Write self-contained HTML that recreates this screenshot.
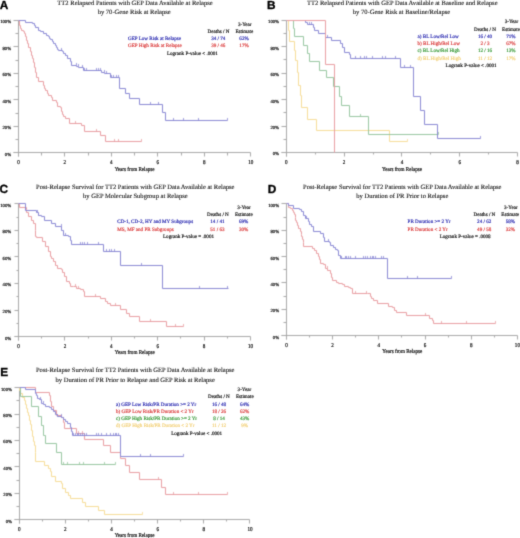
<!DOCTYPE html>
<html><head><meta charset="utf-8"><style>
html,body{margin:0;padding:0;background:#fff;}
body{width:520px;height:538px;overflow:hidden;position:relative;font-family:"Liberation Serif", serif;}
svg{position:absolute;left:0;top:0;}
svg{will-change:transform;}
text{text-rendering:geometricPrecision;}
</style></head><body>
<svg width="520" height="538" viewBox="0 0 520 538">
<defs><filter id="bl" filterUnits="userSpaceOnUse" x="-10" y="-10" width="540" height="560" color-interpolation-filters="sRGB"><feConvolveMatrix order="3" kernelMatrix="1 4 1 4 16 4 1 4 1" divisor="36" edgeMode="none" preserveAlpha="false"/></filter>
<filter id="bt" filterUnits="userSpaceOnUse" x="-10" y="-10" width="540" height="560" color-interpolation-filters="sRGB"><feConvolveMatrix order="3" kernelMatrix="1 6 1 6 36 6 1 6 1" divisor="64" edgeMode="none" preserveAlpha="false"/></filter></defs>
<rect x="0" y="0" width="520" height="538" fill="#fff"/>
<g filter="url(#bl)">
<line x1="18.50" y1="20.50" x2="18.50" y2="156.50" stroke="#a8a8a8" stroke-width="1"/>
<line x1="13.50" y1="152.50" x2="250.50" y2="152.50" stroke="#a8a8a8" stroke-width="1"/>
<line x1="13.50" y1="152.50" x2="18.50" y2="152.50" stroke="#a8a8a8" stroke-width="1"/>
<line x1="15.50" y1="139.50" x2="18.50" y2="139.50" stroke="#a8a8a8" stroke-width="1"/>
<line x1="13.50" y1="126.50" x2="18.50" y2="126.50" stroke="#a8a8a8" stroke-width="1"/>
<line x1="15.50" y1="113.50" x2="18.50" y2="113.50" stroke="#a8a8a8" stroke-width="1"/>
<line x1="13.50" y1="99.50" x2="18.50" y2="99.50" stroke="#a8a8a8" stroke-width="1"/>
<line x1="15.50" y1="86.50" x2="18.50" y2="86.50" stroke="#a8a8a8" stroke-width="1"/>
<line x1="13.50" y1="73.50" x2="18.50" y2="73.50" stroke="#a8a8a8" stroke-width="1"/>
<line x1="15.50" y1="60.50" x2="18.50" y2="60.50" stroke="#a8a8a8" stroke-width="1"/>
<line x1="13.50" y1="46.50" x2="18.50" y2="46.50" stroke="#a8a8a8" stroke-width="1"/>
<line x1="15.50" y1="33.50" x2="18.50" y2="33.50" stroke="#a8a8a8" stroke-width="1"/>
<line x1="13.50" y1="20.50" x2="18.50" y2="20.50" stroke="#a8a8a8" stroke-width="1"/>
<line x1="18.50" y1="152.50" x2="18.50" y2="156.50" stroke="#a8a8a8" stroke-width="1"/>
<line x1="41.50" y1="152.50" x2="41.50" y2="155.50" stroke="#a8a8a8" stroke-width="1"/>
<line x1="64.50" y1="152.50" x2="64.50" y2="156.50" stroke="#a8a8a8" stroke-width="1"/>
<line x1="88.50" y1="152.50" x2="88.50" y2="155.50" stroke="#a8a8a8" stroke-width="1"/>
<line x1="111.50" y1="152.50" x2="111.50" y2="156.50" stroke="#a8a8a8" stroke-width="1"/>
<line x1="134.50" y1="152.50" x2="134.50" y2="155.50" stroke="#a8a8a8" stroke-width="1"/>
<line x1="157.50" y1="152.50" x2="157.50" y2="156.50" stroke="#a8a8a8" stroke-width="1"/>
<line x1="181.50" y1="152.50" x2="181.50" y2="155.50" stroke="#a8a8a8" stroke-width="1"/>
<line x1="204.50" y1="152.50" x2="204.50" y2="156.50" stroke="#a8a8a8" stroke-width="1"/>
<line x1="227.50" y1="152.50" x2="227.50" y2="155.50" stroke="#a8a8a8" stroke-width="1"/>
<line x1="250.50" y1="152.50" x2="250.50" y2="156.50" stroke="#a8a8a8" stroke-width="1"/>
<path d="M18.50,20.50H19.50V25.50H20.50V28.50H21.50V30.50H23.50V31.50H24.50V33.50H25.50V36.50H26.50V40.50H27.50V43.50H28.50V47.50H30.50V51.50H31.50V55.50H32.50V58.50H33.50V62.50H34.50V67.50H35.50V72.50H36.50V77.50H38.50V81.50H43.50V85.50H44.50V88.50H45.50V90.50H47.50V93.50H48.50V95.50H51.50V97.50H52.50V100.50H56.50V102.50H57.50V106.50H60.50V107.50H61.50V111.50H62.50V114.50H63.50V116.50H65.50V118.50H69.50V123.50H81.50V125.50H84.50V131.50H100.50V135.50H105.50V141.50H141.50" fill="none" stroke="#e89ea2" stroke-width="1.0"/>
<path d="M75.50,123.50V121.00M96.50,131.50V129.00M114.50,141.50V139.00M118.50,141.50V139.00M141.50,141.50V139.00" fill="none" stroke="#e89ea2" stroke-width="0.8"/>
<path d="M18.50,20.50H25.50V22.50H32.50V23.50H34.50V25.50H35.50V27.50H38.50V30.50H40.50V31.50H43.50V33.50H46.50V35.50H48.50V36.50H49.50V38.50H50.50V39.50H52.50V41.50H53.50V43.50H55.50V45.50H56.50V47.50H57.50V49.50H58.50V50.50H62.50V51.50H63.50V53.50H65.50V55.50H67.50V58.50H70.50V61.50H71.50V65.50H76.50V66.50H78.50V67.50H83.50V70.50H101.50V72.50H104.50V73.50H110.50V77.50H119.50V88.50H125.50V93.50H129.50V98.50H139.50V104.50H162.50V112.50H165.50V120.50H227.50" fill="none" stroke="#8a88d4" stroke-width="1.0"/>
<path d="M61.50,50.50V48.00M76.50,65.50V63.00M78.50,66.50V64.00M82.50,67.50V65.00M84.50,70.50V68.00M86.50,70.50V68.00M96.50,70.50V68.00M98.50,70.50V68.00M100.50,70.50V68.00M104.50,72.50V70.00M106.50,73.50V71.00M111.50,77.50V75.00M113.50,77.50V75.00M116.50,77.50V75.00M118.50,77.50V75.00M150.50,104.50V102.00M158.50,104.50V102.00M173.50,120.50V118.00M183.50,120.50V118.00M198.50,120.50V118.00M227.50,120.50V118.00" fill="none" stroke="#8a88d4" stroke-width="0.8"/>
<line x1="286.50" y1="20.50" x2="286.50" y2="156.50" stroke="#a8a8a8" stroke-width="1"/>
<line x1="281.50" y1="152.50" x2="517.50" y2="152.50" stroke="#a8a8a8" stroke-width="1"/>
<line x1="281.50" y1="152.50" x2="286.50" y2="152.50" stroke="#a8a8a8" stroke-width="1"/>
<line x1="283.50" y1="139.50" x2="286.50" y2="139.50" stroke="#a8a8a8" stroke-width="1"/>
<line x1="281.50" y1="126.50" x2="286.50" y2="126.50" stroke="#a8a8a8" stroke-width="1"/>
<line x1="283.50" y1="112.50" x2="286.50" y2="112.50" stroke="#a8a8a8" stroke-width="1"/>
<line x1="281.50" y1="99.50" x2="286.50" y2="99.50" stroke="#a8a8a8" stroke-width="1"/>
<line x1="283.50" y1="86.50" x2="286.50" y2="86.50" stroke="#a8a8a8" stroke-width="1"/>
<line x1="281.50" y1="73.50" x2="286.50" y2="73.50" stroke="#a8a8a8" stroke-width="1"/>
<line x1="283.50" y1="59.50" x2="286.50" y2="59.50" stroke="#a8a8a8" stroke-width="1"/>
<line x1="281.50" y1="46.50" x2="286.50" y2="46.50" stroke="#a8a8a8" stroke-width="1"/>
<line x1="283.50" y1="33.50" x2="286.50" y2="33.50" stroke="#a8a8a8" stroke-width="1"/>
<line x1="281.50" y1="20.50" x2="286.50" y2="20.50" stroke="#a8a8a8" stroke-width="1"/>
<line x1="286.50" y1="152.50" x2="286.50" y2="156.50" stroke="#a8a8a8" stroke-width="1"/>
<line x1="315.50" y1="152.50" x2="315.50" y2="154.50" stroke="#a8a8a8" stroke-width="1"/>
<line x1="344.50" y1="152.50" x2="344.50" y2="156.50" stroke="#a8a8a8" stroke-width="1"/>
<line x1="373.50" y1="152.50" x2="373.50" y2="154.50" stroke="#a8a8a8" stroke-width="1"/>
<line x1="401.50" y1="152.50" x2="401.50" y2="156.50" stroke="#a8a8a8" stroke-width="1"/>
<line x1="430.50" y1="152.50" x2="430.50" y2="154.50" stroke="#a8a8a8" stroke-width="1"/>
<line x1="459.50" y1="152.50" x2="459.50" y2="156.50" stroke="#a8a8a8" stroke-width="1"/>
<line x1="488.50" y1="152.50" x2="488.50" y2="154.50" stroke="#a8a8a8" stroke-width="1"/>
<line x1="517.50" y1="152.50" x2="517.50" y2="156.50" stroke="#a8a8a8" stroke-width="1"/>
<path d="M286.50,20.50H288.50V30.50H289.50V41.50H294.50V50.50H295.50V60.50H297.50V72.50H298.50V85.50H300.50V95.50H301.50V107.50H307.50V119.50H316.50V130.50H389.50V141.50H407.50" fill="none" stroke="#f6dc98" stroke-width="1.0"/>
<path d="M407.50,141.50V139.00" fill="none" stroke="#f6dc98" stroke-width="0.8"/>
<path d="M286.50,20.50H293.50V28.50H294.50V36.50H303.50V45.50H307.50V53.50H309.50V61.50H319.50V70.50H326.50V77.50H333.50V86.50H339.50V96.50H341.50V105.50H349.50V116.50H368.50V134.50H438.50" fill="none" stroke="#98c6a0" stroke-width="1.0"/>
<path d="M360.50,116.50V114.00M438.50,134.50V132.00" fill="none" stroke="#98c6a0" stroke-width="0.8"/>
<path d="M286.50,20.50H305.50V22.50H307.50V24.50H313.50V27.50H314.50V30.50H318.50V33.50H325.50V37.50H331.50V40.50H340.50V43.50H342.50V47.50H344.50V52.50H349.50V54.50H350.50V58.50H400.50V67.50H413.50V96.50H420.50V110.50H424.50V124.50H437.50V138.50H480.50" fill="none" stroke="#8a88d4" stroke-width="1.0"/>
<path d="M309.50,24.50V22.00M311.50,24.50V22.00M327.50,37.50V35.00M355.50,58.50V56.00M360.50,58.50V56.00M364.50,58.50V56.00M366.50,58.50V56.00M372.50,58.50V56.00M382.50,58.50V56.00M385.50,58.50V56.00M395.50,58.50V56.00M404.50,67.50V65.00M410.50,67.50V65.00M480.50,138.50V136.00" fill="none" stroke="#8a88d4" stroke-width="0.8"/>
<path d="M286.50,20.50H325.50V64.50H334.50V152.50H334.50" fill="none" stroke="#e89ea2" stroke-width="1.0"/>
<line x1="18.50" y1="203.50" x2="18.50" y2="340.50" stroke="#a8a8a8" stroke-width="1"/>
<line x1="14.50" y1="336.50" x2="250.50" y2="336.50" stroke="#a8a8a8" stroke-width="1"/>
<line x1="14.50" y1="336.50" x2="18.50" y2="336.50" stroke="#a8a8a8" stroke-width="1"/>
<line x1="16.50" y1="323.50" x2="18.50" y2="323.50" stroke="#a8a8a8" stroke-width="1"/>
<line x1="14.50" y1="310.50" x2="18.50" y2="310.50" stroke="#a8a8a8" stroke-width="1"/>
<line x1="16.50" y1="296.50" x2="18.50" y2="296.50" stroke="#a8a8a8" stroke-width="1"/>
<line x1="14.50" y1="283.50" x2="18.50" y2="283.50" stroke="#a8a8a8" stroke-width="1"/>
<line x1="16.50" y1="270.50" x2="18.50" y2="270.50" stroke="#a8a8a8" stroke-width="1"/>
<line x1="14.50" y1="256.50" x2="18.50" y2="256.50" stroke="#a8a8a8" stroke-width="1"/>
<line x1="16.50" y1="243.50" x2="18.50" y2="243.50" stroke="#a8a8a8" stroke-width="1"/>
<line x1="14.50" y1="230.50" x2="18.50" y2="230.50" stroke="#a8a8a8" stroke-width="1"/>
<line x1="16.50" y1="217.50" x2="18.50" y2="217.50" stroke="#a8a8a8" stroke-width="1"/>
<line x1="14.50" y1="203.50" x2="18.50" y2="203.50" stroke="#a8a8a8" stroke-width="1"/>
<line x1="18.50" y1="336.50" x2="18.50" y2="340.50" stroke="#a8a8a8" stroke-width="1"/>
<line x1="41.50" y1="336.50" x2="41.50" y2="338.50" stroke="#a8a8a8" stroke-width="1"/>
<line x1="64.50" y1="336.50" x2="64.50" y2="340.50" stroke="#a8a8a8" stroke-width="1"/>
<line x1="88.50" y1="336.50" x2="88.50" y2="338.50" stroke="#a8a8a8" stroke-width="1"/>
<line x1="111.50" y1="336.50" x2="111.50" y2="340.50" stroke="#a8a8a8" stroke-width="1"/>
<line x1="134.50" y1="336.50" x2="134.50" y2="338.50" stroke="#a8a8a8" stroke-width="1"/>
<line x1="157.50" y1="336.50" x2="157.50" y2="340.50" stroke="#a8a8a8" stroke-width="1"/>
<line x1="180.50" y1="336.50" x2="180.50" y2="338.50" stroke="#a8a8a8" stroke-width="1"/>
<line x1="204.50" y1="336.50" x2="204.50" y2="340.50" stroke="#a8a8a8" stroke-width="1"/>
<line x1="227.50" y1="336.50" x2="227.50" y2="338.50" stroke="#a8a8a8" stroke-width="1"/>
<line x1="250.50" y1="336.50" x2="250.50" y2="340.50" stroke="#a8a8a8" stroke-width="1"/>
<path d="M18.50,203.50H19.50V207.50H26.50V209.50H26.50V212.50H28.50V216.50H31.50V220.50H33.50V223.50H35.50V230.50H35.50V236.50H36.50V237.50H42.50V241.50H45.50V246.50H48.50V251.50H50.50V256.50H51.50V258.50H53.50V261.50H55.50V265.50H57.50V268.50H61.50V269.50H62.50V272.50H64.50V276.50H66.50V281.50H69.50V283.50H70.50V286.50H73.50V286.50H76.50V288.50H80.50V289.50H83.50V291.50H84.50V296.50H100.50V298.50H105.50V301.50H107.50V303.50H110.50V305.50H120.50V309.50H126.50V313.50H129.50V316.50H139.50V321.50H166.50V326.50H183.50" fill="none" stroke="#e89ea2" stroke-width="1.0"/>
<path d="M75.50,286.50V284.00M78.50,288.50V286.00M95.50,296.50V294.00M115.50,305.50V303.00M150.50,321.50V319.00M175.50,326.50V324.00M183.50,326.50V324.00" fill="none" stroke="#e89ea2" stroke-width="0.8"/>
<path d="M18.50,203.50H25.50V210.50H36.50V212.50H38.50V215.50H41.50V216.50H44.50V220.50H51.50V223.50H55.50V226.50H61.50V230.50H63.50V235.50H68.50V236.50H70.50V240.50H71.50V244.50H103.50V251.50H120.50V265.50H162.50V288.50H228.50" fill="none" stroke="#8a88d4" stroke-width="1.0"/>
<path d="M37.50,212.50V210.00M38.50,215.50V213.00M61.50,226.50V224.00M65.50,235.50V233.00M80.50,244.50V242.00M82.50,244.50V242.00M84.50,244.50V242.00M87.50,244.50V242.00M98.50,244.50V242.00M106.50,251.50V249.00M109.50,251.50V249.00M111.50,251.50V249.00M114.50,251.50V249.00M141.50,265.50V263.00M199.50,288.50V286.00M227.50,288.50V286.00" fill="none" stroke="#8a88d4" stroke-width="0.8"/>
<line x1="286.50" y1="203.50" x2="286.50" y2="339.50" stroke="#a8a8a8" stroke-width="1"/>
<line x1="281.50" y1="335.50" x2="517.50" y2="335.50" stroke="#a8a8a8" stroke-width="1"/>
<line x1="281.50" y1="335.50" x2="286.50" y2="335.50" stroke="#a8a8a8" stroke-width="1"/>
<line x1="283.50" y1="322.50" x2="286.50" y2="322.50" stroke="#a8a8a8" stroke-width="1"/>
<line x1="281.50" y1="309.50" x2="286.50" y2="309.50" stroke="#a8a8a8" stroke-width="1"/>
<line x1="283.50" y1="296.50" x2="286.50" y2="296.50" stroke="#a8a8a8" stroke-width="1"/>
<line x1="281.50" y1="282.50" x2="286.50" y2="282.50" stroke="#a8a8a8" stroke-width="1"/>
<line x1="283.50" y1="269.50" x2="286.50" y2="269.50" stroke="#a8a8a8" stroke-width="1"/>
<line x1="281.50" y1="256.50" x2="286.50" y2="256.50" stroke="#a8a8a8" stroke-width="1"/>
<line x1="283.50" y1="243.50" x2="286.50" y2="243.50" stroke="#a8a8a8" stroke-width="1"/>
<line x1="281.50" y1="230.50" x2="286.50" y2="230.50" stroke="#a8a8a8" stroke-width="1"/>
<line x1="283.50" y1="217.50" x2="286.50" y2="217.50" stroke="#a8a8a8" stroke-width="1"/>
<line x1="281.50" y1="203.50" x2="286.50" y2="203.50" stroke="#a8a8a8" stroke-width="1"/>
<line x1="286.50" y1="335.50" x2="286.50" y2="339.50" stroke="#a8a8a8" stroke-width="1"/>
<line x1="309.50" y1="335.50" x2="309.50" y2="337.50" stroke="#a8a8a8" stroke-width="1"/>
<line x1="332.50" y1="335.50" x2="332.50" y2="339.50" stroke="#a8a8a8" stroke-width="1"/>
<line x1="355.50" y1="335.50" x2="355.50" y2="337.50" stroke="#a8a8a8" stroke-width="1"/>
<line x1="378.50" y1="335.50" x2="378.50" y2="339.50" stroke="#a8a8a8" stroke-width="1"/>
<line x1="401.50" y1="335.50" x2="401.50" y2="337.50" stroke="#a8a8a8" stroke-width="1"/>
<line x1="425.50" y1="335.50" x2="425.50" y2="339.50" stroke="#a8a8a8" stroke-width="1"/>
<line x1="448.50" y1="335.50" x2="448.50" y2="337.50" stroke="#a8a8a8" stroke-width="1"/>
<line x1="471.50" y1="335.50" x2="471.50" y2="339.50" stroke="#a8a8a8" stroke-width="1"/>
<line x1="494.50" y1="335.50" x2="494.50" y2="337.50" stroke="#a8a8a8" stroke-width="1"/>
<line x1="517.50" y1="335.50" x2="517.50" y2="339.50" stroke="#a8a8a8" stroke-width="1"/>
<path d="M286.50,203.50H288.50V207.50H290.50V208.50H292.50V210.50H293.50V212.50H294.50V214.50H295.50V217.50H295.50V220.50H296.50V222.50H297.50V225.50H298.50V228.50H300.50V231.50H301.50V234.50H301.50V236.50H302.50V239.50H303.50V242.50H303.50V246.50H312.50V248.50H314.50V250.50H316.50V253.50H318.50V256.50H319.50V259.50H320.50V263.50H323.50V264.50H325.50V268.50H327.50V270.50H330.50V273.50H331.50V277.50H332.50V280.50H336.50V282.50H338.50V283.50H342.50V284.50H344.50V286.50H348.50V287.50H350.50V288.50H352.50V293.50H367.50V293.50H370.50V296.50H371.50V298.50H373.50V300.50H377.50V303.50H388.50V306.50H392.50V307.50H394.50V310.50H396.50V312.50H406.50V315.50H429.50V318.50H432.50V320.50H433.50V323.50H495.50" fill="none" stroke="#e89ea2" stroke-width="1.0"/>
<path d="M327.50,268.50V266.00M355.50,293.50V291.00M366.50,293.50V291.00M425.50,315.50V313.00M441.50,323.50V321.00M466.50,323.50V321.00M495.50,323.50V321.00" fill="none" stroke="#e89ea2" stroke-width="0.8"/>
<path d="M286.50,203.50H288.50V205.50H293.50V208.50H299.50V209.50H301.50V211.50H303.50V215.50H305.50V218.50H308.50V221.50H309.50V224.50H311.50V226.50H313.50V231.50H320.50V233.50H323.50V237.50H324.50V241.50H329.50V242.50H330.50V245.50H333.50V247.50H335.50V249.50H337.50V250.50H338.50V255.50H340.50V258.50H387.50V278.50H451.50" fill="none" stroke="#8a88d4" stroke-width="1.0"/>
<path d="M306.50,218.50V216.00M328.50,241.50V239.00M341.50,258.50V256.00M345.50,258.50V256.00M346.50,258.50V256.00M348.50,258.50V256.00M350.50,258.50V256.00M355.50,258.50V256.00M363.50,258.50V256.00M365.50,258.50V256.00M367.50,258.50V256.00M370.50,258.50V256.00M372.50,258.50V256.00M373.50,258.50V256.00M375.50,258.50V256.00M381.50,258.50V256.00M383.50,258.50V256.00M407.50,278.50V276.00M417.50,278.50V276.00M451.50,278.50V276.00" fill="none" stroke="#8a88d4" stroke-width="0.8"/>
<line x1="19.50" y1="387.50" x2="19.50" y2="523.50" stroke="#a8a8a8" stroke-width="1"/>
<line x1="14.50" y1="519.50" x2="249.50" y2="519.50" stroke="#a8a8a8" stroke-width="1"/>
<line x1="14.50" y1="519.50" x2="19.50" y2="519.50" stroke="#a8a8a8" stroke-width="1"/>
<line x1="16.50" y1="506.50" x2="19.50" y2="506.50" stroke="#a8a8a8" stroke-width="1"/>
<line x1="14.50" y1="493.50" x2="19.50" y2="493.50" stroke="#a8a8a8" stroke-width="1"/>
<line x1="16.50" y1="480.50" x2="19.50" y2="480.50" stroke="#a8a8a8" stroke-width="1"/>
<line x1="14.50" y1="466.50" x2="19.50" y2="466.50" stroke="#a8a8a8" stroke-width="1"/>
<line x1="16.50" y1="453.50" x2="19.50" y2="453.50" stroke="#a8a8a8" stroke-width="1"/>
<line x1="14.50" y1="440.50" x2="19.50" y2="440.50" stroke="#a8a8a8" stroke-width="1"/>
<line x1="16.50" y1="427.50" x2="19.50" y2="427.50" stroke="#a8a8a8" stroke-width="1"/>
<line x1="14.50" y1="414.50" x2="19.50" y2="414.50" stroke="#a8a8a8" stroke-width="1"/>
<line x1="16.50" y1="400.50" x2="19.50" y2="400.50" stroke="#a8a8a8" stroke-width="1"/>
<line x1="14.50" y1="387.50" x2="19.50" y2="387.50" stroke="#a8a8a8" stroke-width="1"/>
<line x1="19.50" y1="519.50" x2="19.50" y2="523.50" stroke="#a8a8a8" stroke-width="1"/>
<line x1="42.50" y1="519.50" x2="42.50" y2="521.50" stroke="#a8a8a8" stroke-width="1"/>
<line x1="65.50" y1="519.50" x2="65.50" y2="523.50" stroke="#a8a8a8" stroke-width="1"/>
<line x1="88.50" y1="519.50" x2="88.50" y2="521.50" stroke="#a8a8a8" stroke-width="1"/>
<line x1="111.50" y1="519.50" x2="111.50" y2="523.50" stroke="#a8a8a8" stroke-width="1"/>
<line x1="134.50" y1="519.50" x2="134.50" y2="521.50" stroke="#a8a8a8" stroke-width="1"/>
<line x1="157.50" y1="519.50" x2="157.50" y2="523.50" stroke="#a8a8a8" stroke-width="1"/>
<line x1="180.50" y1="519.50" x2="180.50" y2="521.50" stroke="#a8a8a8" stroke-width="1"/>
<line x1="203.50" y1="519.50" x2="203.50" y2="523.50" stroke="#a8a8a8" stroke-width="1"/>
<line x1="226.50" y1="519.50" x2="226.50" y2="521.50" stroke="#a8a8a8" stroke-width="1"/>
<line x1="249.50" y1="519.50" x2="249.50" y2="523.50" stroke="#a8a8a8" stroke-width="1"/>
<path d="M19.50,387.50H19.50V390.50H20.50V393.50H22.50V397.50H24.50V400.50H25.50V404.50H26.50V408.50H27.50V412.50H28.50V415.50H29.50V420.50H30.50V424.50H31.50V430.50H32.50V436.50H33.50V441.50H34.50V445.50H35.50V452.50H35.50V461.50H44.50V465.50H48.50V468.50H50.50V471.50H51.50V476.50H55.50V481.50H61.50V483.50H62.50V488.50H65.50V492.50H68.50V495.50H70.50V498.50H82.50V502.50H85.50V506.50H98.50V510.50H104.50V514.50H142.50" fill="none" stroke="#f6dc98" stroke-width="1.0"/>
<path d="M142.50,514.50V512.00" fill="none" stroke="#f6dc98" stroke-width="0.8"/>
<path d="M19.50,387.50H20.50V396.50H31.50V406.50H38.50V416.50H41.50V425.50H43.50V435.50H45.50V443.50H56.50V452.50H61.50V464.50H115.50" fill="none" stroke="#98c6a0" stroke-width="1.0"/>
<path d="M63.50,464.50V462.00M67.50,464.50V462.00M79.50,464.50V462.00M83.50,464.50V462.00M104.50,464.50V462.00M115.50,464.50V462.00" fill="none" stroke="#98c6a0" stroke-width="0.8"/>
<path d="M19.50,387.50H35.50V392.50H49.50V395.50H50.50V401.50H51.50V406.50H53.50V410.50H56.50V415.50H61.50V417.50H63.50V422.50H64.50V428.50H76.50V433.50H84.50V439.50H103.50V445.50H110.50V452.50H120.50V458.50H125.50V465.50H129.50V472.50H139.50V479.50H161.50V487.50H165.50V494.50H227.50" fill="none" stroke="#e89ea2" stroke-width="1.0"/>
<path d="M78.50,433.50V431.00M82.50,433.50V431.00M158.50,479.50V477.00M173.50,494.50V492.00M198.50,494.50V492.00M227.50,494.50V492.00" fill="none" stroke="#e89ea2" stroke-width="0.8"/>
<path d="M19.50,387.50H25.50V389.50H35.50V393.50H36.50V395.50H37.50V398.50H39.50V399.50H41.50V403.50H43.50V404.50H45.50V406.50H49.50V407.50H51.50V409.50H53.50V411.50H55.50V414.50H57.50V416.50H61.50V417.50H63.50V419.50H65.50V421.50H67.50V423.50H70.50V427.50H71.50V431.50H72.50V435.50H120.50V456.50H183.50" fill="none" stroke="#8a88d4" stroke-width="1.0"/>
<path d="M40.50,399.50V397.00M43.50,403.50V401.00M57.50,416.50V414.00M61.50,416.50V414.00M73.50,435.50V433.00M75.50,435.50V433.00M77.50,435.50V433.00M78.50,435.50V433.00M80.50,435.50V433.00M82.50,435.50V433.00M84.50,435.50V433.00M86.50,435.50V433.00M96.50,435.50V433.00M98.50,435.50V433.00M101.50,435.50V433.00M106.50,435.50V433.00M110.50,435.50V433.00M113.50,435.50V433.00M115.50,435.50V433.00M116.50,435.50V433.00M118.50,435.50V433.00M140.50,456.50V454.00M150.50,456.50V454.00M183.50,456.50V454.00" fill="none" stroke="#8a88d4" stroke-width="0.8"/>
</g>
<g filter="url(#bt)">
<text transform="translate(-0.20,8.90) scale(1,1.0)" font-size="11.8" fill="#000" stroke="#000" stroke-width="0.35" text-anchor="start" font-family='"Liberation Sans", sans-serif' font-weight="bold">A</text>
<text transform="translate(135.00,5.00) scale(1,1.0)" font-size="6.55" fill="#202020" stroke="#202020" stroke-width="0.12" text-anchor="middle" font-family='"Liberation Serif", serif' font-weight="normal">TT2 Relapsed Patients with GEP Data Available at Relapse</text>
<text transform="translate(134.20,14.00) scale(1,1.0)" font-size="6.55" fill="#202020" stroke="#202020" stroke-width="0.12" text-anchor="middle" font-family='"Liberation Serif", serif' font-weight="normal">by 70-Gene Risk at Relapse</text>
<text transform="translate(11.10,155.70) scale(1,1.0)" font-size="4.7" fill="#202020" stroke="#202020" stroke-width="0.2" text-anchor="end" font-family='"Liberation Serif", serif' font-weight="normal">0%</text>
<text transform="translate(11.10,129.24) scale(1,1.0)" font-size="4.7" fill="#202020" stroke="#202020" stroke-width="0.2" text-anchor="end" font-family='"Liberation Serif", serif' font-weight="normal">20%</text>
<text transform="translate(11.10,102.78) scale(1,1.0)" font-size="4.7" fill="#202020" stroke="#202020" stroke-width="0.2" text-anchor="end" font-family='"Liberation Serif", serif' font-weight="normal">40%</text>
<text transform="translate(11.10,76.32) scale(1,1.0)" font-size="4.7" fill="#202020" stroke="#202020" stroke-width="0.2" text-anchor="end" font-family='"Liberation Serif", serif' font-weight="normal">60%</text>
<text transform="translate(11.10,49.86) scale(1,1.0)" font-size="4.7" fill="#202020" stroke="#202020" stroke-width="0.2" text-anchor="end" font-family='"Liberation Serif", serif' font-weight="normal">80%</text>
<text transform="translate(11.10,23.40) scale(1,1.0)" font-size="4.7" fill="#202020" stroke="#202020" stroke-width="0.2" text-anchor="end" font-family='"Liberation Serif", serif' font-weight="normal">100%</text>
<text transform="translate(18.40,164.30) scale(1,1.15)" font-size="5.1" fill="#202020" stroke="#202020" stroke-width="0.2" text-anchor="middle" font-family='"Liberation Serif", serif' font-weight="normal">0</text>
<text transform="translate(64.86,164.30) scale(1,1.15)" font-size="5.1" fill="#202020" stroke="#202020" stroke-width="0.2" text-anchor="middle" font-family='"Liberation Serif", serif' font-weight="normal">2</text>
<text transform="translate(111.32,164.30) scale(1,1.15)" font-size="5.1" fill="#202020" stroke="#202020" stroke-width="0.2" text-anchor="middle" font-family='"Liberation Serif", serif' font-weight="normal">4</text>
<text transform="translate(157.78,164.30) scale(1,1.15)" font-size="5.1" fill="#202020" stroke="#202020" stroke-width="0.2" text-anchor="middle" font-family='"Liberation Serif", serif' font-weight="normal">6</text>
<text transform="translate(204.24,164.30) scale(1,1.15)" font-size="5.1" fill="#202020" stroke="#202020" stroke-width="0.2" text-anchor="middle" font-family='"Liberation Serif", serif' font-weight="normal">8</text>
<text transform="translate(250.70,164.30) scale(1,1.15)" font-size="5.1" fill="#202020" stroke="#202020" stroke-width="0.2" text-anchor="middle" font-family='"Liberation Serif", serif' font-weight="normal">10</text>
<text transform="translate(134.60,171.00) scale(1,1.15)" font-size="5.1" fill="#202020" stroke="#202020" stroke-width="0.2" text-anchor="middle" font-family='"Liberation Serif", serif' font-weight="normal">Years from Relapse</text>
<text transform="translate(244.75,26.00) scale(1,1.0)" font-size="5.1" fill="#202020" stroke="#202020" stroke-width="0.2" text-anchor="middle" font-family='"Liberation Serif", serif' font-weight="normal">3-Year</text>
<text transform="translate(218.50,32.60) scale(1,1.0)" font-size="5.1" fill="#202020" stroke="#202020" stroke-width="0.2" text-anchor="middle" font-family='"Liberation Serif", serif' font-weight="normal">Deaths / N</text>
<text transform="translate(244.30,32.60) scale(1,1.0)" font-size="5.1" fill="#202020" stroke="#202020" stroke-width="0.2" text-anchor="middle" font-family='"Liberation Serif", serif' font-weight="normal">Estimate</text>
<text transform="translate(128.00,39.70) scale(1,1.0)" font-size="5.1" fill="#3434b4" stroke="#3434b4" stroke-width="0.2" text-anchor="start" font-family='"Liberation Serif", serif' font-weight="normal">GEP Low Risk at Relapse</text>
<text transform="translate(218.30,39.70) scale(1,1.0)" font-size="5.1" fill="#3434b4" stroke="#3434b4" stroke-width="0.2" text-anchor="middle" font-family='"Liberation Serif", serif' font-weight="normal">34 / 74</text>
<text transform="translate(244.00,39.70) scale(1,1.0)" font-size="5.1" fill="#3434b4" stroke="#3434b4" stroke-width="0.2" text-anchor="middle" font-family='"Liberation Serif", serif' font-weight="normal">62%</text>
<text transform="translate(128.00,47.10) scale(1,1.0)" font-size="5.1" fill="#dc4646" stroke="#dc4646" stroke-width="0.2" text-anchor="start" font-family='"Liberation Serif", serif' font-weight="normal">GEP High Risk at Relapse</text>
<text transform="translate(218.30,47.10) scale(1,1.0)" font-size="5.1" fill="#dc4646" stroke="#dc4646" stroke-width="0.2" text-anchor="middle" font-family='"Liberation Serif", serif' font-weight="normal">39 / 46</text>
<text transform="translate(244.00,47.10) scale(1,1.0)" font-size="5.1" fill="#dc4646" stroke="#dc4646" stroke-width="0.2" text-anchor="middle" font-family='"Liberation Serif", serif' font-weight="normal">17%</text>
<text transform="translate(166.90,54.80) scale(1,1.0)" font-size="5.1" fill="#202020" stroke="#202020" stroke-width="0.2" text-anchor="start" font-family='"Liberation Serif", serif' font-weight="normal">Logrank P-value &lt; .0001</text>
<text transform="translate(267.00,8.50) scale(1,1.0)" font-size="11.8" fill="#000" stroke="#000" stroke-width="0.35" text-anchor="start" font-family='"Liberation Sans", sans-serif' font-weight="bold">B</text>
<text transform="translate(402.30,5.00) scale(1,1.0)" font-size="6.55" fill="#202020" stroke="#202020" stroke-width="0.12" text-anchor="middle" font-family='"Liberation Serif", serif' font-weight="normal">TT2 Relapsed Patients with GEP Data Available at Baseline and Relapse</text>
<text transform="translate(401.50,14.00) scale(1,1.0)" font-size="6.55" fill="#202020" stroke="#202020" stroke-width="0.12" text-anchor="middle" font-family='"Liberation Serif", serif' font-weight="normal">by 70-Gene Risk at Baseline/Relapse</text>
<text transform="translate(279.00,155.40) scale(1,1.0)" font-size="4.7" fill="#202020" stroke="#202020" stroke-width="0.2" text-anchor="end" font-family='"Liberation Serif", serif' font-weight="normal">0%</text>
<text transform="translate(279.00,128.96) scale(1,1.0)" font-size="4.7" fill="#202020" stroke="#202020" stroke-width="0.2" text-anchor="end" font-family='"Liberation Serif", serif' font-weight="normal">20%</text>
<text transform="translate(279.00,102.52) scale(1,1.0)" font-size="4.7" fill="#202020" stroke="#202020" stroke-width="0.2" text-anchor="end" font-family='"Liberation Serif", serif' font-weight="normal">40%</text>
<text transform="translate(279.00,76.08) scale(1,1.0)" font-size="4.7" fill="#202020" stroke="#202020" stroke-width="0.2" text-anchor="end" font-family='"Liberation Serif", serif' font-weight="normal">60%</text>
<text transform="translate(279.00,49.64) scale(1,1.0)" font-size="4.7" fill="#202020" stroke="#202020" stroke-width="0.2" text-anchor="end" font-family='"Liberation Serif", serif' font-weight="normal">80%</text>
<text transform="translate(279.00,23.20) scale(1,1.0)" font-size="4.7" fill="#202020" stroke="#202020" stroke-width="0.2" text-anchor="end" font-family='"Liberation Serif", serif' font-weight="normal">100%</text>
<text transform="translate(286.30,164.30) scale(1,1.15)" font-size="5.1" fill="#202020" stroke="#202020" stroke-width="0.2" text-anchor="middle" font-family='"Liberation Serif", serif' font-weight="normal">0</text>
<text transform="translate(344.10,164.30) scale(1,1.15)" font-size="5.1" fill="#202020" stroke="#202020" stroke-width="0.2" text-anchor="middle" font-family='"Liberation Serif", serif' font-weight="normal">2</text>
<text transform="translate(401.90,164.30) scale(1,1.15)" font-size="5.1" fill="#202020" stroke="#202020" stroke-width="0.2" text-anchor="middle" font-family='"Liberation Serif", serif' font-weight="normal">4</text>
<text transform="translate(459.70,164.30) scale(1,1.15)" font-size="5.1" fill="#202020" stroke="#202020" stroke-width="0.2" text-anchor="middle" font-family='"Liberation Serif", serif' font-weight="normal">6</text>
<text transform="translate(517.50,164.30) scale(1,1.15)" font-size="5.1" fill="#202020" stroke="#202020" stroke-width="0.2" text-anchor="middle" font-family='"Liberation Serif", serif' font-weight="normal">8</text>
<text transform="translate(402.00,170.70) scale(1,1.15)" font-size="5.1" fill="#202020" stroke="#202020" stroke-width="0.2" text-anchor="middle" font-family='"Liberation Serif", serif' font-weight="normal">Years from Relapse</text>
<text transform="translate(511.50,23.00) scale(1,1.0)" font-size="5.1" fill="#202020" stroke="#202020" stroke-width="0.2" text-anchor="middle" font-family='"Liberation Serif", serif' font-weight="normal">3-Year</text>
<text transform="translate(485.00,30.70) scale(1,1.0)" font-size="5.1" fill="#202020" stroke="#202020" stroke-width="0.2" text-anchor="middle" font-family='"Liberation Serif", serif' font-weight="normal">Deaths / N</text>
<text transform="translate(511.00,30.70) scale(1,1.0)" font-size="5.1" fill="#202020" stroke="#202020" stroke-width="0.2" text-anchor="middle" font-family='"Liberation Serif", serif' font-weight="normal">Estimate</text>
<text transform="translate(417.50,37.95) scale(1,1.0)" font-size="5.1" fill="#3434b4" stroke="#3434b4" stroke-width="0.2" text-anchor="start" font-family='"Liberation Serif", serif' font-weight="normal">a) BL Low/Rel Low</text>
<text transform="translate(485.00,37.95) scale(1,1.0)" font-size="5.1" fill="#3434b4" stroke="#3434b4" stroke-width="0.2" text-anchor="middle" font-family='"Liberation Serif", serif' font-weight="normal">16 / 40</text>
<text transform="translate(510.80,37.95) scale(1,1.0)" font-size="5.1" fill="#3434b4" stroke="#3434b4" stroke-width="0.2" text-anchor="middle" font-family='"Liberation Serif", serif' font-weight="normal">71%</text>
<text transform="translate(417.50,45.20) scale(1,1.0)" font-size="5.1" fill="#dc4646" stroke="#dc4646" stroke-width="0.2" text-anchor="start" font-family='"Liberation Serif", serif' font-weight="normal">b) BL High/Rel Low</text>
<text transform="translate(485.00,45.20) scale(1,1.0)" font-size="5.1" fill="#dc4646" stroke="#dc4646" stroke-width="0.2" text-anchor="middle" font-family='"Liberation Serif", serif' font-weight="normal">2 / 3</text>
<text transform="translate(510.80,45.20) scale(1,1.0)" font-size="5.1" fill="#dc4646" stroke="#dc4646" stroke-width="0.2" text-anchor="middle" font-family='"Liberation Serif", serif' font-weight="normal">67%</text>
<text transform="translate(417.50,52.30) scale(1,1.0)" font-size="5.1" fill="#409e40" stroke="#409e40" stroke-width="0.2" text-anchor="start" font-family='"Liberation Serif", serif' font-weight="normal">c) BL Low/Rel High</text>
<text transform="translate(485.00,52.30) scale(1,1.0)" font-size="5.1" fill="#409e40" stroke="#409e40" stroke-width="0.2" text-anchor="middle" font-family='"Liberation Serif", serif' font-weight="normal">12 / 16</text>
<text transform="translate(510.80,52.30) scale(1,1.0)" font-size="5.1" fill="#409e40" stroke="#409e40" stroke-width="0.2" text-anchor="middle" font-family='"Liberation Serif", serif' font-weight="normal">13%</text>
<text transform="translate(417.50,59.50) scale(1,1.0)" font-size="5.1" fill="#f2d27e" stroke="#f2d27e" stroke-width="0.2" text-anchor="start" font-family='"Liberation Serif", serif' font-weight="normal">d) BL High/Rel High</text>
<text transform="translate(485.00,59.50) scale(1,1.0)" font-size="5.1" fill="#f2d27e" stroke="#f2d27e" stroke-width="0.2" text-anchor="middle" font-family='"Liberation Serif", serif' font-weight="normal">11 / 12</text>
<text transform="translate(510.80,59.50) scale(1,1.0)" font-size="5.1" fill="#f2d27e" stroke="#f2d27e" stroke-width="0.2" text-anchor="middle" font-family='"Liberation Serif", serif' font-weight="normal">17%</text>
<text transform="translate(445.60,66.90) scale(1,1.0)" font-size="5.1" fill="#202020" stroke="#202020" stroke-width="0.2" text-anchor="start" font-family='"Liberation Serif", serif' font-weight="normal">Logrank P-value &lt; .0001</text>
<text transform="translate(-0.50,192.70) scale(1,1.0)" font-size="11.8" fill="#000" stroke="#000" stroke-width="0.35" text-anchor="start" font-family='"Liberation Sans", sans-serif' font-weight="bold">C</text>
<text transform="translate(135.30,188.60) scale(1,1.0)" font-size="6.55" fill="#202020" stroke="#202020" stroke-width="0.12" text-anchor="middle" font-family='"Liberation Serif", serif' font-weight="normal">Post-Relapse Survival for TT2 Patients with GEP Data Available at Relapse</text>
<text transform="translate(135.30,197.60) scale(1,1.0)" font-size="6.55" fill="#202020" stroke="#202020" stroke-width="0.12" text-anchor="middle" font-family='"Liberation Serif", serif' font-weight="normal">by GEP Molecular Subgroup at Relapse</text>
<text transform="translate(11.20,339.50) scale(1,1.0)" font-size="4.7" fill="#202020" stroke="#202020" stroke-width="0.2" text-anchor="end" font-family='"Liberation Serif", serif' font-weight="normal">0%</text>
<text transform="translate(11.20,312.96) scale(1,1.0)" font-size="4.7" fill="#202020" stroke="#202020" stroke-width="0.2" text-anchor="end" font-family='"Liberation Serif", serif' font-weight="normal">20%</text>
<text transform="translate(11.20,286.42) scale(1,1.0)" font-size="4.7" fill="#202020" stroke="#202020" stroke-width="0.2" text-anchor="end" font-family='"Liberation Serif", serif' font-weight="normal">40%</text>
<text transform="translate(11.20,259.88) scale(1,1.0)" font-size="4.7" fill="#202020" stroke="#202020" stroke-width="0.2" text-anchor="end" font-family='"Liberation Serif", serif' font-weight="normal">60%</text>
<text transform="translate(11.20,233.34) scale(1,1.0)" font-size="4.7" fill="#202020" stroke="#202020" stroke-width="0.2" text-anchor="end" font-family='"Liberation Serif", serif' font-weight="normal">80%</text>
<text transform="translate(11.20,206.80) scale(1,1.0)" font-size="4.7" fill="#202020" stroke="#202020" stroke-width="0.2" text-anchor="end" font-family='"Liberation Serif", serif' font-weight="normal">100%</text>
<text transform="translate(18.50,348.20) scale(1,1.15)" font-size="5.1" fill="#202020" stroke="#202020" stroke-width="0.2" text-anchor="middle" font-family='"Liberation Serif", serif' font-weight="normal">0</text>
<text transform="translate(64.90,348.20) scale(1,1.15)" font-size="5.1" fill="#202020" stroke="#202020" stroke-width="0.2" text-anchor="middle" font-family='"Liberation Serif", serif' font-weight="normal">2</text>
<text transform="translate(111.30,348.20) scale(1,1.15)" font-size="5.1" fill="#202020" stroke="#202020" stroke-width="0.2" text-anchor="middle" font-family='"Liberation Serif", serif' font-weight="normal">4</text>
<text transform="translate(157.70,348.20) scale(1,1.15)" font-size="5.1" fill="#202020" stroke="#202020" stroke-width="0.2" text-anchor="middle" font-family='"Liberation Serif", serif' font-weight="normal">6</text>
<text transform="translate(204.10,348.20) scale(1,1.15)" font-size="5.1" fill="#202020" stroke="#202020" stroke-width="0.2" text-anchor="middle" font-family='"Liberation Serif", serif' font-weight="normal">8</text>
<text transform="translate(250.50,348.20) scale(1,1.15)" font-size="5.1" fill="#202020" stroke="#202020" stroke-width="0.2" text-anchor="middle" font-family='"Liberation Serif", serif' font-weight="normal">10</text>
<text transform="translate(134.80,354.30) scale(1,1.15)" font-size="5.1" fill="#202020" stroke="#202020" stroke-width="0.2" text-anchor="middle" font-family='"Liberation Serif", serif' font-weight="normal">Years from Relapse</text>
<text transform="translate(244.00,209.00) scale(1,1.0)" font-size="5.1" fill="#202020" stroke="#202020" stroke-width="0.2" text-anchor="middle" font-family='"Liberation Serif", serif' font-weight="normal">3-Year</text>
<text transform="translate(217.90,215.90) scale(1,1.0)" font-size="5.1" fill="#202020" stroke="#202020" stroke-width="0.2" text-anchor="middle" font-family='"Liberation Serif", serif' font-weight="normal">Deaths / N</text>
<text transform="translate(243.80,215.90) scale(1,1.0)" font-size="5.1" fill="#202020" stroke="#202020" stroke-width="0.2" text-anchor="middle" font-family='"Liberation Serif", serif' font-weight="normal">Estimate</text>
<text transform="translate(117.25,223.30) scale(1,1.0)" font-size="5.1" fill="#3434b4" stroke="#3434b4" stroke-width="0.2" text-anchor="start" font-family='"Liberation Serif", serif' font-weight="normal">CD-1, CD-2, HY and MY Subgroups</text>
<text transform="translate(217.40,223.30) scale(1,1.0)" font-size="5.1" fill="#3434b4" stroke="#3434b4" stroke-width="0.2" text-anchor="middle" font-family='"Liberation Serif", serif' font-weight="normal">14 / 41</text>
<text transform="translate(243.60,223.30) scale(1,1.0)" font-size="5.1" fill="#3434b4" stroke="#3434b4" stroke-width="0.2" text-anchor="middle" font-family='"Liberation Serif", serif' font-weight="normal">69%</text>
<text transform="translate(117.25,230.60) scale(1,1.0)" font-size="5.1" fill="#dc4646" stroke="#dc4646" stroke-width="0.2" text-anchor="start" font-family='"Liberation Serif", serif' font-weight="normal">MS, MF and PR Subgroups</text>
<text transform="translate(217.40,230.60) scale(1,1.0)" font-size="5.1" fill="#dc4646" stroke="#dc4646" stroke-width="0.2" text-anchor="middle" font-family='"Liberation Serif", serif' font-weight="normal">51 / 63</text>
<text transform="translate(243.60,230.60) scale(1,1.0)" font-size="5.1" fill="#dc4646" stroke="#dc4646" stroke-width="0.2" text-anchor="middle" font-family='"Liberation Serif", serif' font-weight="normal">30%</text>
<text transform="translate(163.00,238.00) scale(1,1.0)" font-size="5.1" fill="#202020" stroke="#202020" stroke-width="0.2" text-anchor="start" font-family='"Liberation Serif", serif' font-weight="normal">Logrank P-value = .0001</text>
<text transform="translate(267.80,192.60) scale(1,1.0)" font-size="11.8" fill="#000" stroke="#000" stroke-width="0.35" text-anchor="start" font-family='"Liberation Sans", sans-serif' font-weight="bold">D</text>
<text transform="translate(402.30,188.70) scale(1,1.0)" font-size="6.55" fill="#202020" stroke="#202020" stroke-width="0.12" text-anchor="middle" font-family='"Liberation Serif", serif' font-weight="normal">Post-Relapse Survival for TT2 Patients with GEP Data Available at Relapse</text>
<text transform="translate(402.30,197.70) scale(1,1.0)" font-size="6.55" fill="#202020" stroke="#202020" stroke-width="0.12" text-anchor="middle" font-family='"Liberation Serif", serif' font-weight="normal">by Duration of PR Prior to Relapse</text>
<text transform="translate(279.10,338.60) scale(1,1.0)" font-size="4.7" fill="#202020" stroke="#202020" stroke-width="0.2" text-anchor="end" font-family='"Liberation Serif", serif' font-weight="normal">0%</text>
<text transform="translate(279.10,312.24) scale(1,1.0)" font-size="4.7" fill="#202020" stroke="#202020" stroke-width="0.2" text-anchor="end" font-family='"Liberation Serif", serif' font-weight="normal">20%</text>
<text transform="translate(279.10,285.88) scale(1,1.0)" font-size="4.7" fill="#202020" stroke="#202020" stroke-width="0.2" text-anchor="end" font-family='"Liberation Serif", serif' font-weight="normal">40%</text>
<text transform="translate(279.10,259.52) scale(1,1.0)" font-size="4.7" fill="#202020" stroke="#202020" stroke-width="0.2" text-anchor="end" font-family='"Liberation Serif", serif' font-weight="normal">60%</text>
<text transform="translate(279.10,233.16) scale(1,1.0)" font-size="4.7" fill="#202020" stroke="#202020" stroke-width="0.2" text-anchor="end" font-family='"Liberation Serif", serif' font-weight="normal">80%</text>
<text transform="translate(279.10,206.80) scale(1,1.0)" font-size="4.7" fill="#202020" stroke="#202020" stroke-width="0.2" text-anchor="end" font-family='"Liberation Serif", serif' font-weight="normal">100%</text>
<text transform="translate(286.40,347.20) scale(1,1.15)" font-size="5.1" fill="#202020" stroke="#202020" stroke-width="0.2" text-anchor="middle" font-family='"Liberation Serif", serif' font-weight="normal">0</text>
<text transform="translate(332.60,347.20) scale(1,1.15)" font-size="5.1" fill="#202020" stroke="#202020" stroke-width="0.2" text-anchor="middle" font-family='"Liberation Serif", serif' font-weight="normal">2</text>
<text transform="translate(378.80,347.20) scale(1,1.15)" font-size="5.1" fill="#202020" stroke="#202020" stroke-width="0.2" text-anchor="middle" font-family='"Liberation Serif", serif' font-weight="normal">4</text>
<text transform="translate(425.00,347.20) scale(1,1.15)" font-size="5.1" fill="#202020" stroke="#202020" stroke-width="0.2" text-anchor="middle" font-family='"Liberation Serif", serif' font-weight="normal">6</text>
<text transform="translate(471.20,347.20) scale(1,1.15)" font-size="5.1" fill="#202020" stroke="#202020" stroke-width="0.2" text-anchor="middle" font-family='"Liberation Serif", serif' font-weight="normal">8</text>
<text transform="translate(517.40,347.20) scale(1,1.15)" font-size="5.1" fill="#202020" stroke="#202020" stroke-width="0.2" text-anchor="middle" font-family='"Liberation Serif", serif' font-weight="normal">10</text>
<text transform="translate(402.30,353.40) scale(1,1.15)" font-size="5.1" fill="#202020" stroke="#202020" stroke-width="0.2" text-anchor="middle" font-family='"Liberation Serif", serif' font-weight="normal">Years from Relapse</text>
<text transform="translate(510.80,208.60) scale(1,1.0)" font-size="5.1" fill="#202020" stroke="#202020" stroke-width="0.2" text-anchor="middle" font-family='"Liberation Serif", serif' font-weight="normal">3-Year</text>
<text transform="translate(484.40,215.50) scale(1,1.0)" font-size="5.1" fill="#202020" stroke="#202020" stroke-width="0.2" text-anchor="middle" font-family='"Liberation Serif", serif' font-weight="normal">Deaths / N</text>
<text transform="translate(510.20,215.50) scale(1,1.0)" font-size="5.1" fill="#202020" stroke="#202020" stroke-width="0.2" text-anchor="middle" font-family='"Liberation Serif", serif' font-weight="normal">Estimate</text>
<text transform="translate(407.60,223.20) scale(1,1.0)" font-size="5.1" fill="#3434b4" stroke="#3434b4" stroke-width="0.2" text-anchor="start" font-family='"Liberation Serif", serif' font-weight="normal">PR Duration &gt;= 2 Yr</text>
<text transform="translate(484.20,223.20) scale(1,1.0)" font-size="5.1" fill="#3434b4" stroke="#3434b4" stroke-width="0.2" text-anchor="middle" font-family='"Liberation Serif", serif' font-weight="normal">24 / 62</text>
<text transform="translate(510.30,223.20) scale(1,1.0)" font-size="5.1" fill="#3434b4" stroke="#3434b4" stroke-width="0.2" text-anchor="middle" font-family='"Liberation Serif", serif' font-weight="normal">58%</text>
<text transform="translate(407.60,231.00) scale(1,1.0)" font-size="5.1" fill="#dc4646" stroke="#dc4646" stroke-width="0.2" text-anchor="start" font-family='"Liberation Serif", serif' font-weight="normal">PR Duration &lt; 2 Yr</text>
<text transform="translate(484.20,231.00) scale(1,1.0)" font-size="5.1" fill="#dc4646" stroke="#dc4646" stroke-width="0.2" text-anchor="middle" font-family='"Liberation Serif", serif' font-weight="normal">49 / 58</text>
<text transform="translate(510.30,231.00) scale(1,1.0)" font-size="5.1" fill="#dc4646" stroke="#dc4646" stroke-width="0.2" text-anchor="middle" font-family='"Liberation Serif", serif' font-weight="normal">32%</text>
<text transform="translate(439.70,237.90) scale(1,1.0)" font-size="5.1" fill="#202020" stroke="#202020" stroke-width="0.2" text-anchor="start" font-family='"Liberation Serif", serif' font-weight="normal">Logrank P-value = .0008</text>
<text transform="translate(0.20,375.60) scale(1,1.0)" font-size="11.8" fill="#000" stroke="#000" stroke-width="0.35" text-anchor="start" font-family='"Liberation Sans", sans-serif' font-weight="bold">E</text>
<text transform="translate(135.20,372.40) scale(1,1.0)" font-size="6.55" fill="#202020" stroke="#202020" stroke-width="0.12" text-anchor="middle" font-family='"Liberation Serif", serif' font-weight="normal">Post-Relapse Survival for TT2 Patients with GEP Data Available at Relapse</text>
<text transform="translate(135.20,381.80) scale(1,1.0)" font-size="6.55" fill="#202020" stroke="#202020" stroke-width="0.12" text-anchor="middle" font-family='"Liberation Serif", serif' font-weight="normal">by Duration of PR Prior to Relapse and GEP Risk at Relapse</text>
<text transform="translate(11.90,522.50) scale(1,1.0)" font-size="4.7" fill="#202020" stroke="#202020" stroke-width="0.2" text-anchor="end" font-family='"Liberation Serif", serif' font-weight="normal">0%</text>
<text transform="translate(11.90,496.12) scale(1,1.0)" font-size="4.7" fill="#202020" stroke="#202020" stroke-width="0.2" text-anchor="end" font-family='"Liberation Serif", serif' font-weight="normal">20%</text>
<text transform="translate(11.90,469.74) scale(1,1.0)" font-size="4.7" fill="#202020" stroke="#202020" stroke-width="0.2" text-anchor="end" font-family='"Liberation Serif", serif' font-weight="normal">40%</text>
<text transform="translate(11.90,443.36) scale(1,1.0)" font-size="4.7" fill="#202020" stroke="#202020" stroke-width="0.2" text-anchor="end" font-family='"Liberation Serif", serif' font-weight="normal">60%</text>
<text transform="translate(11.90,416.98) scale(1,1.0)" font-size="4.7" fill="#202020" stroke="#202020" stroke-width="0.2" text-anchor="end" font-family='"Liberation Serif", serif' font-weight="normal">80%</text>
<text transform="translate(11.90,390.60) scale(1,1.0)" font-size="4.7" fill="#202020" stroke="#202020" stroke-width="0.2" text-anchor="end" font-family='"Liberation Serif", serif' font-weight="normal">100%</text>
<text transform="translate(19.20,530.60) scale(1,1.15)" font-size="5.1" fill="#202020" stroke="#202020" stroke-width="0.2" text-anchor="middle" font-family='"Liberation Serif", serif' font-weight="normal">0</text>
<text transform="translate(65.36,530.60) scale(1,1.15)" font-size="5.1" fill="#202020" stroke="#202020" stroke-width="0.2" text-anchor="middle" font-family='"Liberation Serif", serif' font-weight="normal">2</text>
<text transform="translate(111.52,530.60) scale(1,1.15)" font-size="5.1" fill="#202020" stroke="#202020" stroke-width="0.2" text-anchor="middle" font-family='"Liberation Serif", serif' font-weight="normal">4</text>
<text transform="translate(157.68,530.60) scale(1,1.15)" font-size="5.1" fill="#202020" stroke="#202020" stroke-width="0.2" text-anchor="middle" font-family='"Liberation Serif", serif' font-weight="normal">6</text>
<text transform="translate(203.84,530.60) scale(1,1.15)" font-size="5.1" fill="#202020" stroke="#202020" stroke-width="0.2" text-anchor="middle" font-family='"Liberation Serif", serif' font-weight="normal">8</text>
<text transform="translate(250.00,530.60) scale(1,1.15)" font-size="5.1" fill="#202020" stroke="#202020" stroke-width="0.2" text-anchor="middle" font-family='"Liberation Serif", serif' font-weight="normal">10</text>
<text transform="translate(134.60,537.20) scale(1,1.15)" font-size="5.1" fill="#202020" stroke="#202020" stroke-width="0.2" text-anchor="middle" font-family='"Liberation Serif", serif' font-weight="normal">Years from Relapse</text>
<text transform="translate(244.40,391.10) scale(1,1.0)" font-size="5.1" fill="#202020" stroke="#202020" stroke-width="0.2" text-anchor="middle" font-family='"Liberation Serif", serif' font-weight="normal">3-Year</text>
<text transform="translate(218.90,398.30) scale(1,1.0)" font-size="5.1" fill="#202020" stroke="#202020" stroke-width="0.2" text-anchor="middle" font-family='"Liberation Serif", serif' font-weight="normal">Deaths / N</text>
<text transform="translate(244.80,398.30) scale(1,1.0)" font-size="5.1" fill="#202020" stroke="#202020" stroke-width="0.2" text-anchor="middle" font-family='"Liberation Serif", serif' font-weight="normal">Estimate</text>
<text transform="translate(116.00,405.60) scale(1,1.0)" font-size="5.1" fill="#3434b4" stroke="#3434b4" stroke-width="0.2" text-anchor="start" font-family='"Liberation Serif", serif' font-weight="normal">a) GEP Low Risk/PR Duration &gt;= 2 Yr</text>
<text transform="translate(219.00,405.60) scale(1,1.0)" font-size="5.1" fill="#3434b4" stroke="#3434b4" stroke-width="0.2" text-anchor="middle" font-family='"Liberation Serif", serif' font-weight="normal">16 / 48</text>
<text transform="translate(244.70,405.60) scale(1,1.0)" font-size="5.1" fill="#3434b4" stroke="#3434b4" stroke-width="0.2" text-anchor="middle" font-family='"Liberation Serif", serif' font-weight="normal">64%</text>
<text transform="translate(116.00,412.80) scale(1,1.0)" font-size="5.1" fill="#dc4646" stroke="#dc4646" stroke-width="0.2" text-anchor="start" font-family='"Liberation Serif", serif' font-weight="normal">b) GEP Low Risk/PR Duration &lt; 2 Yr</text>
<text transform="translate(219.00,412.80) scale(1,1.0)" font-size="5.1" fill="#dc4646" stroke="#dc4646" stroke-width="0.2" text-anchor="middle" font-family='"Liberation Serif", serif' font-weight="normal">18 / 26</text>
<text transform="translate(244.70,412.80) scale(1,1.0)" font-size="5.1" fill="#dc4646" stroke="#dc4646" stroke-width="0.2" text-anchor="middle" font-family='"Liberation Serif", serif' font-weight="normal">62%</text>
<text transform="translate(116.00,419.90) scale(1,1.0)" font-size="5.1" fill="#409e40" stroke="#409e40" stroke-width="0.2" text-anchor="start" font-family='"Liberation Serif", serif' font-weight="normal">c) GEP High Risk/PR Duration &gt;= 2 Yr</text>
<text transform="translate(219.00,419.90) scale(1,1.0)" font-size="5.1" fill="#409e40" stroke="#409e40" stroke-width="0.2" text-anchor="middle" font-family='"Liberation Serif", serif' font-weight="normal">8 / 14</text>
<text transform="translate(244.70,419.90) scale(1,1.0)" font-size="5.1" fill="#409e40" stroke="#409e40" stroke-width="0.2" text-anchor="middle" font-family='"Liberation Serif", serif' font-weight="normal">43%</text>
<text transform="translate(116.00,427.10) scale(1,1.0)" font-size="5.1" fill="#f2d27e" stroke="#f2d27e" stroke-width="0.2" text-anchor="start" font-family='"Liberation Serif", serif' font-weight="normal">d) GEP High Risk/PR Duration &lt; 2 Yr</text>
<text transform="translate(219.00,427.10) scale(1,1.0)" font-size="5.1" fill="#f2d27e" stroke="#f2d27e" stroke-width="0.2" text-anchor="middle" font-family='"Liberation Serif", serif' font-weight="normal">11 / 12</text>
<text transform="translate(244.70,427.10) scale(1,1.0)" font-size="5.1" fill="#f2d27e" stroke="#f2d27e" stroke-width="0.2" text-anchor="middle" font-family='"Liberation Serif", serif' font-weight="normal">9%</text>
<text transform="translate(171.20,434.70) scale(1,1.0)" font-size="5.1" fill="#202020" stroke="#202020" stroke-width="0.2" text-anchor="start" font-family='"Liberation Serif", serif' font-weight="normal">Logrank P-value &lt; .0001</text>
</g>
</svg>
</body></html>
